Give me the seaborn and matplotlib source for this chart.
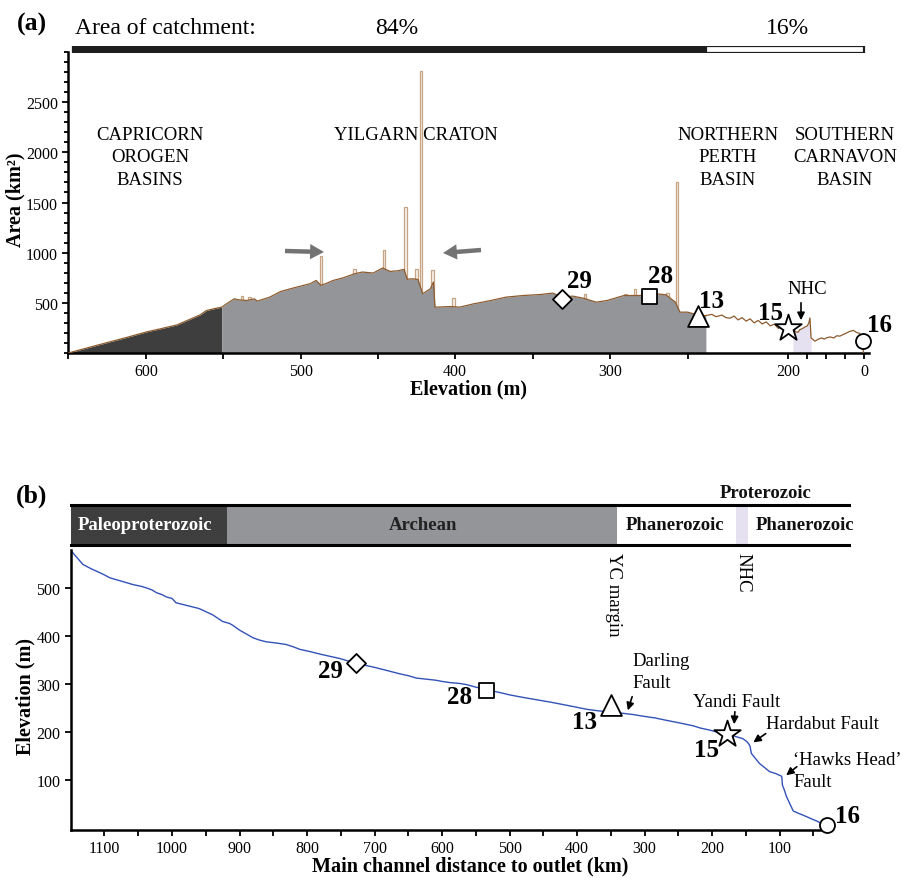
import numpy as np
import matplotlib
matplotlib.use("Agg")
import matplotlib.pyplot as plt
from matplotlib.ticker import FixedLocator, MultipleLocator
import seaborn as sns

sns.set_theme(style="ticks")
plt.rcParams["font.family"] = ["Liberation Serif", "DejaVu Serif"]
for k in ["text.color", "axes.labelcolor", "xtick.color", "ytick.color", "axes.edgecolor"]:
    plt.rcParams[k] = "black"

# ---------------- data: panel (a) hypsometry ----------------
elev_a = [650, 634, 612, 599, 591, 580, 571, 565, 561, 555, 551, 548, 543, 540, 535,
          530, 528, 520, 513, 505, 494, 490, 487, 484, 479, 473, 465, 460, 453, 447,
          442, 437, 433, 431, 428, 424, 421, 419, 416, 414, 413, 408, 403, 397, 388,
          377, 367, 356, 345, 337, 331, 324, 317, 309, 302, 291, 281, 270, 264, 258,
          255, 250, 247, 244, 241, 238, 236, 233, 231, 229, 227, 225, 223, 221, 219,
          217, 215, 213, 211, 209, 207, 205, 203, 200, 196, 188, 185, 180, 174, 170,
          165, 160, 155, 150, 146, 143, 140, 135, 130, 125, 120, 112, 105, 99, 90,
          80, 72, 64, 55, 46, 38, 28, 20, 11, 6, 3, 1]
area_a = [0, 67, 157, 213, 240, 280, 340, 380, 423, 445, 457, 490, 540, 530, 523,
          540, 517, 557, 613, 647, 690, 723, 675, 690, 723, 747, 790, 807, 797, 847,
          813, 820, 833, 735, 740, 733, 590, 610, 640, 707, 457, 460, 463, 457, 490,
          523, 557, 573, 583, 597, 557, 567, 545, 507, 523, 573, 573, 590, 580, 507,
          407, 407, 390, 375, 373, 385, 362, 378, 352, 347, 368, 330, 352, 318, 340,
          300, 325, 290, 310, 270, 288, 245, 262, 240, 225, 222, 228, 210, 207, 232,
          240, 250, 262, 270, 300, 350, 150, 135, 118, 128, 140, 150, 138, 152, 160,
          150, 172, 168, 185, 200, 215, 225, 205, 195, 150, 40, 0]
spike_elev = [538, 533, 487, 465, 446, 432, 425, 422, 414.5, 401, 316, 290, 284, 263, 257]
spike_top = [567, 560, 965, 833, 1030, 1460, 840, 2810, 830, 545, 590, 590, 640, 600, 1707]

basin_names = ["CAPRICORN\nOROGEN\nBASINS", "YILGARN CRATON", "NORTHERN\nPERTH\nBASIN",
               "SOUTHERN\nCARNAVON\nBASIN"]
yilgarn_top, yilgarn_bottom = 551, 241          # elevation limits of the craton
nhc_a = (140, 188)                              # Northampton Complex elevation band
catch_labels = ["84%", "16%"]
catch_from = [647, 241]
catch_to = [241, 0]

# ---------------- data: panel (b) long profile ----------------
dist_b = [1150, 1145, 1140, 1132, 1120, 1112, 1100, 1092, 1075, 1058, 1045, 1038, 1030,
          1023, 1015, 1008, 1000, 994, 980, 960, 940, 925, 915, 910, 900, 890, 880, 870,
          860, 845, 831, 820, 811, 795, 781, 765, 752, 740, 727, 715, 702, 685, 663, 650,
          638, 625, 609, 600, 589, 575, 564, 550, 536, 525, 515, 500, 485, 465, 440, 416,
          400, 386, 370, 350, 335, 317, 300, 285, 268, 250, 228, 218, 205, 194, 185, 176,
          165, 155, 149, 146, 144, 142, 138, 130, 122, 115, 106, 98, 97, 96, 93, 90, 85,
          80, 72, 65, 60, 52, 45, 41, 35, 30]
elev_b = [579, 570, 562, 549, 540, 535, 527, 521, 514, 507, 503, 500, 496,
          490, 486, 481, 478, 469, 464, 457, 444, 430, 426, 422, 412, 404, 396, 391,
          387.5, 385, 382, 377, 372, 367, 362, 357, 353, 348, 344, 339, 335, 329, 321, 317,
          312, 310, 307.5, 305, 302.7, 301, 298.5, 293, 289, 285, 282, 277, 273, 268, 262, 255.5,
          251, 247, 244, 241, 239, 236, 232, 229, 224, 219, 212.5, 208, 204, 200, 198, 195,
          190, 186, 180, 175, 170, 155, 148, 134, 125, 117, 113, 108, 107, 89, 78, 65, 50,
          35, 30, 26, 23, 18, 14, 11, 8, 6]
geo_names = ["Paleoproterozoic", "Archean", "Phanerozoic", "Proterozoic", "Phanerozoic"]
geo_from = [1150, 919, 340, 164, 146]
geo_to = [919, 340, 164, 146, -3.5]

# ---------------- sample sites ----------------
site_ids = ["29", "28", "13", "15", "16"]
site_elev_a = [331, 275, 245, 200, 4]
site_area_a = [540, 565, 365, 245, 122]
site_dist_b = [727, 535, 350, 178, 30]
site_elev_b = [344, 287, 255, 195, 5.5]

fault_names = ["Darling\nFault", "Yandi Fault", "Hardabut Fault", "\u2018Hawks Head\u2019\nFault"]

# ---------------- styles ----------------
site_markers = ["D", "s", "^", "*", "o"]
site_ms = [9.7, 10.8, 15, 20, 10.8]
dark, gray, lav = "#3e3e3e", "#939598", "#e6e1f0"
brown, blue = "#8d5b2f", "#3352b8"
geo_colors = [dark, gray, "white", lav, "white"]
geo_text = ["white", "#222222", "#111111", "#111111", "#111111"]

W, H = 904, 879
fig = plt.figure(figsize=(W / 100, H / 100), dpi=100)


def box(l, t, r, b):
    return [l / W, 1 - b / H, (r - l) / W, (b - t) / H]


def fp(x, y):
    return (x / W, 1 - y / H)


def ftext(x, y, s, **kw):
    fig.text(x / W, 1 - y / H, s, **kw)


# piecewise elevation scale for panel (a)
N = np.array([0, 200, 250, 300, 400, 500, 600, 650], float)
P = np.array([0, 75.7, 176.3, 254, 409, 563.3, 718, 795.7], float)


def _pw(v, a, b):
    v = np.asarray(v, dtype=float)
    out = np.interp(v, a, b)
    lo = (b[1] - b[0]) / (a[1] - a[0])
    hi = (b[-1] - b[-2]) / (a[-1] - a[-2])
    out = np.where(v < a[0], b[0] + (v - a[0]) * lo, out)
    out = np.where(v > a[-1], b[-1] + (v - a[-1]) * hi, out)
    return out


fwd = lambda v: _pw(v, N, P)
inv = lambda v: _pw(v, P, N)

# ======================= panel (a) =======================
ax_a = fig.add_axes(box(68.3, 53, 869, 354))
e = np.array(elev_a, float)
a = np.array(area_a, float)
ax_a.bar(spike_elev, spike_top, width=1.6, color="#f7f1ea", edgecolor="#c6a384",
         linewidth=0.9, zorder=1)
ax_a.fill_between(e, 0, a, where=e >= yilgarn_top, color=dark, lw=0, zorder=2)
ax_a.fill_between(e, 0, a, where=(e <= yilgarn_top) & (e >= yilgarn_bottom), color=gray,
                  lw=0, zorder=2)
ax_a.fill_between(e, 0, a, where=(e <= nhc_a[1]) & (e >= nhc_a[0]), color=lav, lw=0, zorder=2)
sns.lineplot(x=e, y=a, color=brown, lw=0.9, ax=ax_a, estimator=None, sort=False, zorder=3)
for i in range(len(site_ids)):
    sns.scatterplot(x=[site_elev_a[i]], y=[site_area_a[i]], marker=site_markers[i],
                    s=site_ms[i] ** 2, color="white", edgecolor="black", linewidth=1.3,
                    ax=ax_a, zorder=6, clip_on=False)
ax_a.set_xscale("function", functions=(fwd, inv))
ax_a.set_xlim(650, -13)
ax_a.set_ylim(0, 3000)
ax_a.set_xticks([600, 500, 400, 300, 200, 0])
ax_a.xaxis.set_minor_locator(FixedLocator([650, 550, 450, 350, 250, 150, 100, 50]))
ax_a.set_yticks([500, 1000, 1500, 2000, 2500])
ax_a.yaxis.set_minor_locator(MultipleLocator(100))
ax_a.set_xlabel("")
ax_a.set_ylabel("")
sns.despine(ax=ax_a)

# catchment bar
ax_c = fig.add_axes(box(68.3, 46.7, 869, 54), sharex=ax_a)
ax_c.barh([0.5, 0.5], [catch_to[0] - catch_from[0], catch_to[1] - catch_from[1]],
          left=catch_from, height=1, color=["#1e1e1e", "white"], edgecolor="#1e1e1e",
          linewidth=1.6)
ax_c.set_ylim(0, 1)
ax_c.axis("off")

# ======================= panel (b) =======================
ax_b = fig.add_axes(box(70.7, 550.5, 827, 830.7))
sns.lineplot(x=dist_b, y=elev_b, color=blue, lw=1.0, ax=ax_b, estimator=None, sort=False)
for i in range(len(site_ids)):
    sns.scatterplot(x=[site_dist_b[i]], y=[site_elev_b[i]], marker=site_markers[i],
                    s=site_ms[i] ** 2, color="white", edgecolor="black", linewidth=1.3,
                    ax=ax_b, zorder=6, clip_on=False)
ax_b.set_xlim(1150, 30)
ax_b.set_ylim(-4, 580)
ax_b.set_xticks([1100, 1000, 900, 800, 700, 600, 500, 400, 300, 200, 100])
ax_b.xaxis.set_minor_locator(FixedLocator([1050, 950, 850, 750, 650, 550, 450, 350, 250, 150, 50]))
ax_b.set_yticks([100, 200, 300, 400, 500])
ax_b.set_xlabel("")
ax_b.set_ylabel("")
sns.despine(ax=ax_b)

# geology bar
ax_g = fig.add_axes(box(70.7, 506, 849.3, 545.7))
for s0, s1, c in zip(geo_from, geo_to, geo_colors):
    ax_g.axvspan(s0, s1, color=c, lw=0)
ax_g.set_xlim(1150, -3.5)
ax_g.set_ylim(0, 1)
ax_g.set_xticks([])
ax_g.set_yticks([])
for sp in ["left", "right"]:
    ax_g.spines[sp].set_visible(False)
for sp in ["top", "bottom"]:
    ax_g.spines[sp].set_linewidth(2.2)
    ax_g.spines[sp].set_color("black")

# ---------------- tick styling ----------------
for ax in (ax_a, ax_b):
    for sp in ["left", "bottom"]:
        ax.spines[sp].set_linewidth(1.8)
    ax.tick_params(which="both", direction="out", width=1.3, length=4.5, labelsize=11.5,
                   pad=3)
    ax.tick_params(axis="y", which="minor", length=3)
ax_a.tick_params(axis="x", which="minor", length=4.5)
ax_b.tick_params(axis="x", which="minor", length=4.5)

# ---------------- texts panel (a) ----------------
bold = dict(fontweight="bold")
ftext(32, 24, "(a)", fontsize=18.5, ha="center", va="center", **bold)
ftext(75, 29, "Area of catchment:", fontsize=17, ha="left", va="center")
ftext(397, 29, catch_labels[0], fontsize=17, ha="center", va="center")
ftext(787, 29, catch_labels[1], fontsize=17, ha="center", va="center")
lab_pos = [(150, 158), (416, 135), (728, 158), (845, 158)]
for name, (x, y) in zip(basin_names, lab_pos):
    ftext(x, y, name, fontsize=13.5, ha="center", va="center", linespacing=1.4)
ftext(15, 200, "Area (km\u00b2)", fontsize=14.5, rotation=90, ha="center", va="center", **bold)
ftext(469, 389, "Elevation (m)", fontsize=14.5, ha="center", va="center", **bold)
num_a = [(579, 282), (661, 277), (712, 302), (770, 314), (880, 326)]
for sid, (x, y) in zip(site_ids, num_a):
    ftext(x, y, sid, fontsize=18, ha="center", va="center", **bold)
ftext(807, 290, "NHC", fontsize=13.5, ha="center", va="center")
arrow_k = dict(arrowstyle="-|>", color="black", lw=1.2, mutation_scale=11)
fig.add_artist(matplotlib.patches.FancyArrowPatch(fp(801, 301), fp(801, 324),
                                                   transform=fig.transFigure, **arrow_k))
for (x0, y0), (x1, y1) in [((285, 252), (324, 253)), ((481, 251), (443, 254))]:
    ax_a.annotate("", xy=fp(x1, y1), xytext=fp(x0, y0), xycoords="figure fraction",
                  textcoords="figure fraction",
                  arrowprops=dict(facecolor="#737373", edgecolor="none", width=3.2,
                                  headwidth=11, headlength=10))

# ---------------- texts panel (b) ----------------
ftext(32, 496, "(b)", fontsize=18.5, ha="center", va="center", **bold)
geo_pos = [(145, 525), (423, 525), (675, 525), (766, 494), (805, 525)]
for name, (x, y), c in zip(geo_names, geo_pos, geo_text):
    ftext(x, y, name, fontsize=13.5, ha="center", va="center", color=c, **bold)
ftext(614, 553, "YC margin", fontsize=13.5, rotation=270, ha="center", va="top")
ftext(743, 553, "NHC", fontsize=13.5, rotation=270, ha="center", va="top")
ftext(25, 697, "Elevation (m)", fontsize=14.5, rotation=90, ha="center", va="center", **bold)
ftext(470, 866, "Main channel distance to outlet (km)", fontsize=14.5, ha="center",
      va="center", **bold)
num_b = [(330, 672), (460, 698), (585, 723), (706, 751), (848, 817)]
for sid, (x, y) in zip(site_ids, num_b):
    ftext(x, y, sid, fontsize=18, ha="center", va="center", **bold)
fault_pos = [(632, 653, "left"), (737, 694, "center"), (766, 716, "left"), (793, 752, "left")]
for name, (x, y, ha) in zip(fault_names, fault_pos):
    ftext(x, y, name, fontsize=13.5, ha=ha, va="top", linespacing=1.35)
for (x0, y0), (x1, y1) in [((633, 695), (627, 714)), ((735, 710), (734, 728)),
                           ((768, 733), (751, 745)), ((799, 766), (784, 778))]:
    fig.add_artist(matplotlib.patches.FancyArrowPatch(fp(x0, y0), fp(x1, y1),
                                                       transform=fig.transFigure, **arrow_k))

fig.savefig("out.png", dpi=100)
